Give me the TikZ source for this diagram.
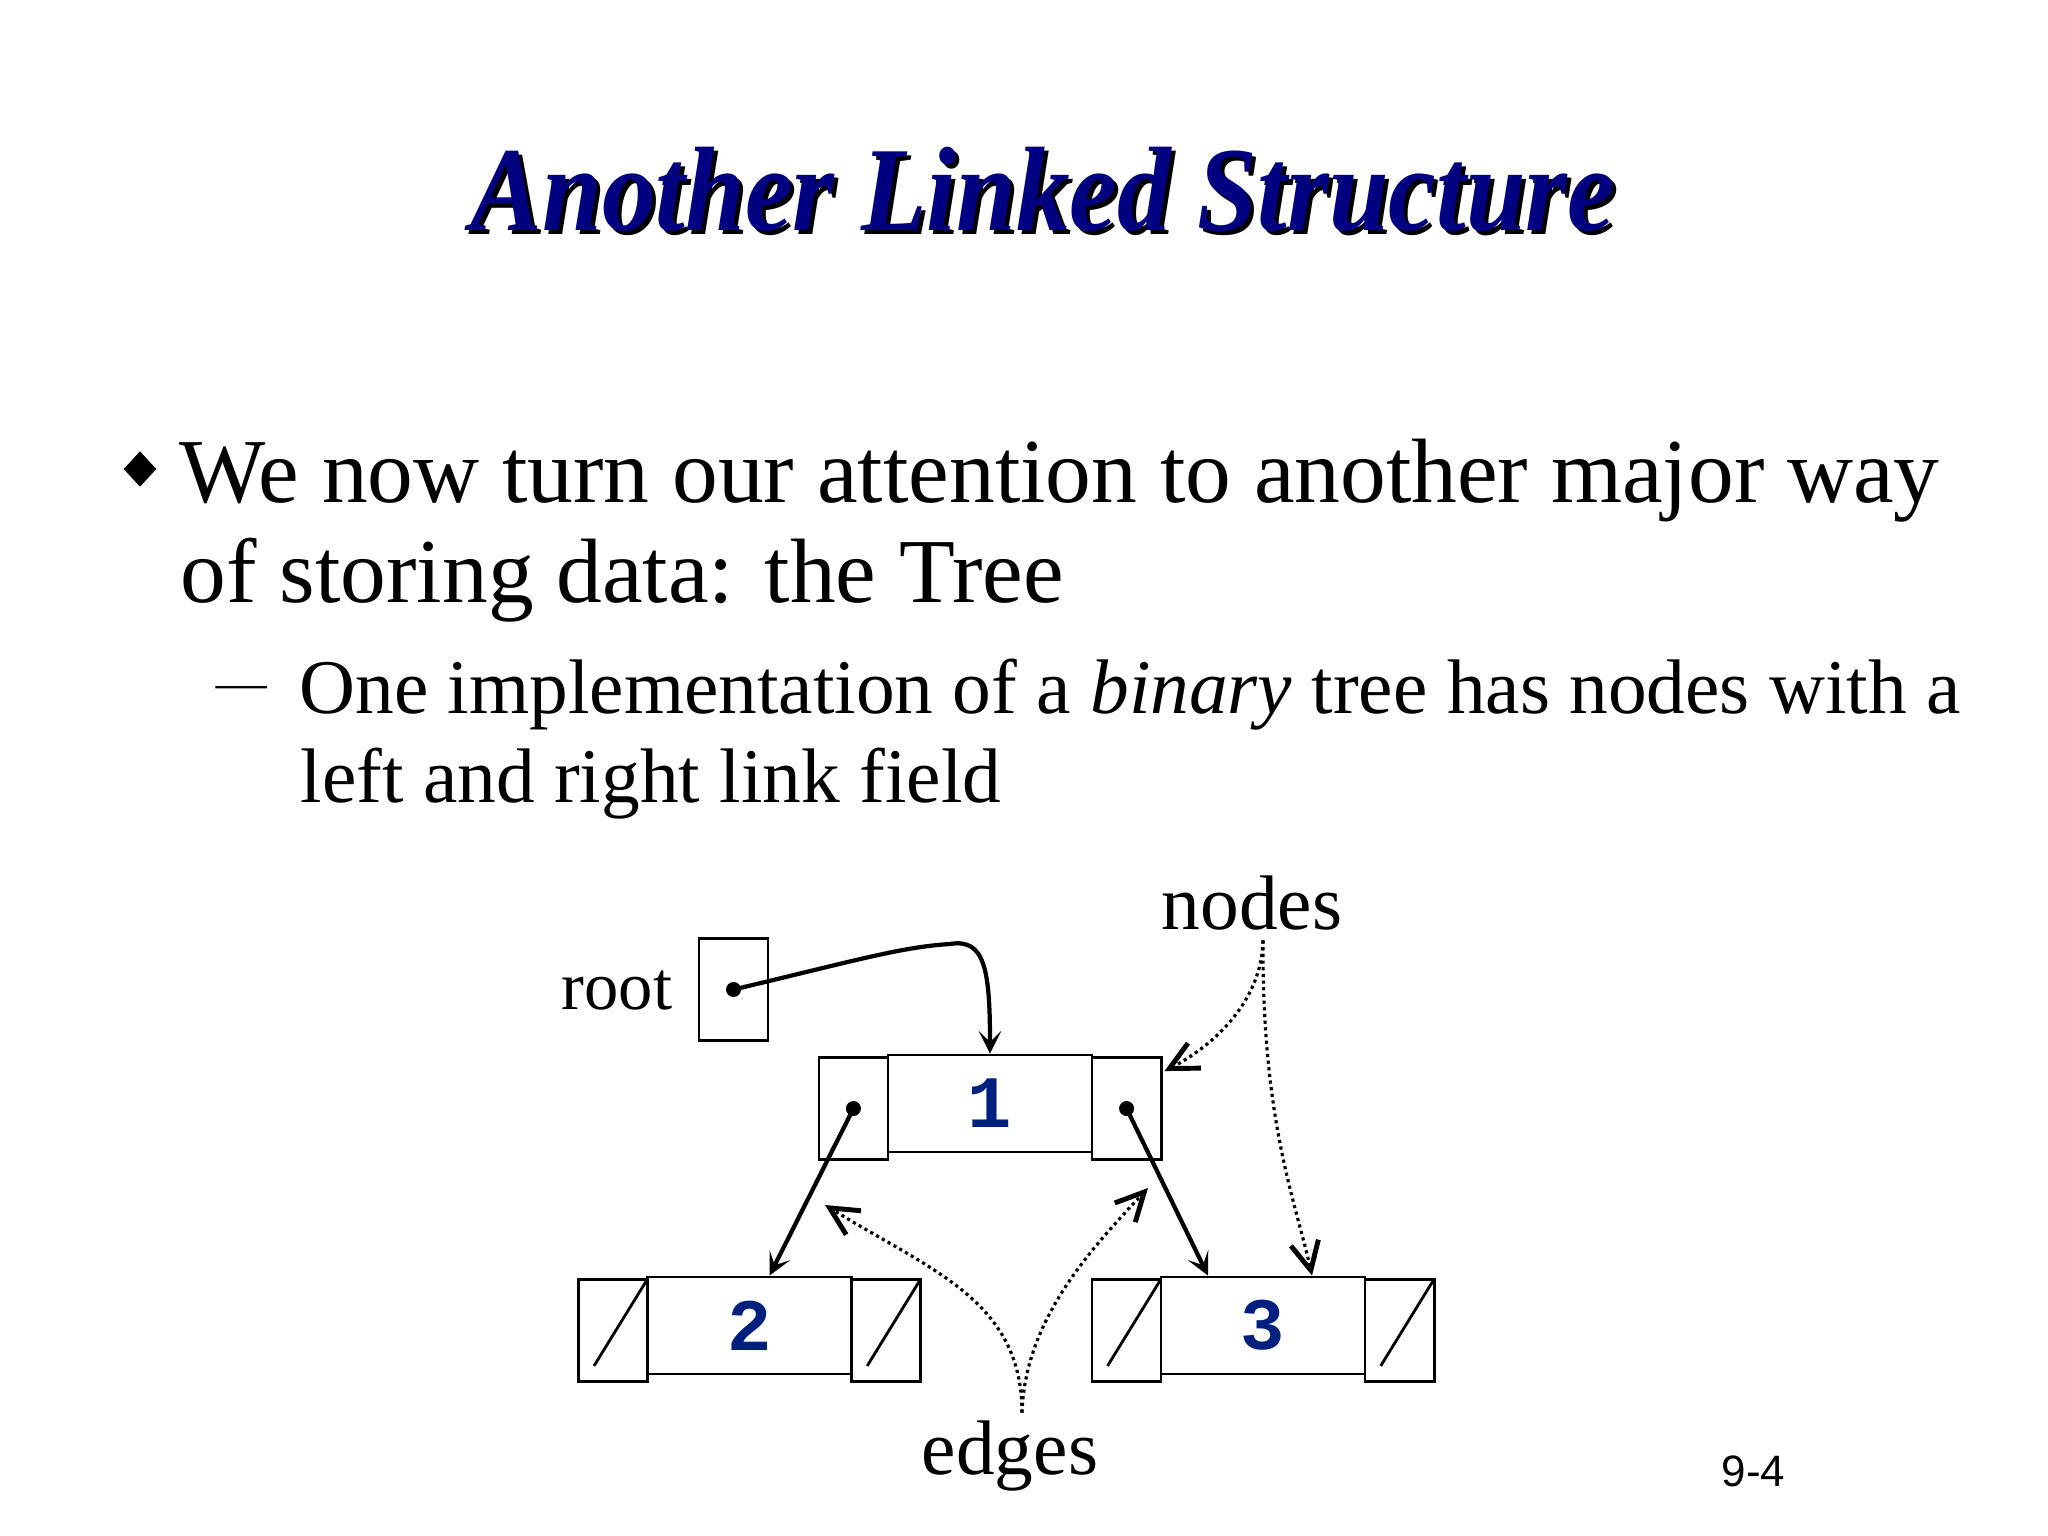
\documentclass[tikz,border=0pt]{standalone}
\usepackage{fontspec}
\setmainfont{Liberation Serif}
\newfontfamily\digitfont{Liberation Mono}
\newfontfamily\pagefont{Liberation Sans}
\usetikzlibrary{arrows.meta,shapes.geometric}
\definecolor{titleblue}{RGB}{0,0,128}
\definecolor{fieldblue}{RGB}{0,32,128}

\begin{document}
\begin{tikzpicture}[x=0.01cm, y=-0.01cm, node distance=1.365cm,
    link/.style={draw, line width=0.8pt, minimum width=0.69cm, minimum height=1.02cm, inner sep=0pt},
    datum/.style={draw, line width=0.8pt, minimum width=2.04cm, minimum height=0.97cm, inner sep=0pt,
        font=\digitfont\bfseries\fontsize{21}{21}\selectfont, text=fieldblue},
    pointer/.style={line width=1.2pt, -{Stealth[length=6.5pt, width=6.5pt, inset=3.2pt]}},
    hint/.style={densely dotted, line width=0.9pt, -{Straight Barb[length=8pt, width=8pt, line width=1.4pt]}},
    annot/.style={inner sep=0pt, font=\fontsize{22}{22}\selectfont},
    heading/.style={anchor=base, inner sep=0pt, font=\fontsize{30.5}{30}\selectfont\bfseries\itshape},
    bodyline/.style={anchor=base west, inner sep=0pt, font=\fontsize{26}{28}\selectfont},
    subline/.style={anchor=base west, inner sep=0pt, font=\fontsize{22}{25}\selectfont}]
    \useasboundingbox (0,0) rectangle (2048,1536);

    % title with its shadow
    \node[heading, text=black] (titleshadow) at (1047,234) {\scalebox{1}[1.12]{Another Linked Structure}};
    \node[heading, text=titleblue] (title) at (1043,230) {\scalebox{1}[1.12]{Another Linked Structure}};

    % bullet text
    \node[diamond, fill, minimum width=0.33cm, minimum height=0.36cm, inner sep=0pt] (bullet) at (140,469) {};
    \node[bodyline] (line1) at (179,502) {We now turn our attention to another major way};
    \node[bodyline] (line2) at (180,602) {of storing data: the Tree};
    \node[anchor=base west, inner sep=0pt, font=\fontsize{22}{22}\selectfont] (dash) at (216,698) {\scalebox{1.3}[0.6]{--}};
    \node[subline] (line3) at (299,713) {One implementation of a \textit{binary} tree has nodes with a};
    \node[subline] (line4) at (300,802) {left and right link field};

    % root pointer
    \node[link] (root) at (733.5,989.5) {};
    \node[annot, anchor=base east, font=\fontsize{19.5}{20}\selectfont] (roottag) at (673,1009) {root};

    % tree nodes: left link, data, right link
    \foreach \n/\x/\y/\val in {n1/990/1103.5/1, n2/749.5/1325.5/2, n3/1263/1325.5/3} {
        \node[datum] (\n) at (\x,\y) {\val};
        \node[link, left of=\n, yshift=-0.05cm] (l\n) {};
        \node[link, right of=\n, yshift=-0.05cm] (r\n) {};
    }
    \foreach \b in {root,ln1,rn1}
        \fill (\b.center) circle[radius=0.075cm];
    \foreach \b in {ln2,rn2,ln3,rn3}
        \draw[line width=0.8pt] ([shift={(17,-17)}]\b.south west) -- ([shift={(-2,2)}]\b.north east);

    \draw[pointer] (root.center) .. controls (850,962) and (900,947) .. (950,944)
        .. controls (985,938) and (990,970) .. (n1.north);
    \draw[pointer] (ln1.center) -- ([xshift=0.2cm]n2.north);
    \draw[pointer] (rn1.center) -- ([xshift=-0.55cm]n3.north);

    % labels with dotted hints
    \node[annot, anchor=base] (nodestag) at (1252,929) {nodes};
    \node[annot, anchor=base] (edgestag) at (1010,1474) {edges};
    \coordinate (leftmark) at (825,1205);
    \coordinate (rightmark) at (1148,1188);

    \draw[hint] ([shift={(11,10)}]nodestag.south) .. controls (1262,1000) and (1215,1045) .. ([shift={(2,15)}]rn1.north east);
    \draw[hint] ([shift={(11,10)}]nodestag.south) .. controls (1262,1120) and (1295,1200) .. ([xshift=0.49cm]n3.north);
    \draw[hint] ([shift={(12,-7)}]edgestag.north) .. controls (1022,1300) and (930,1270) .. (leftmark);
    \draw[hint] ([shift={(12,-7)}]edgestag.north) .. controls (1025,1320) and (1090,1250) .. (rightmark);

    \node[anchor=base west, inner sep=0pt, font=\pagefont\fontsize{12.5}{12.5}\selectfont] (pagenum) at (1721,1486) {9-4};
\end{tikzpicture}
\end{document}
